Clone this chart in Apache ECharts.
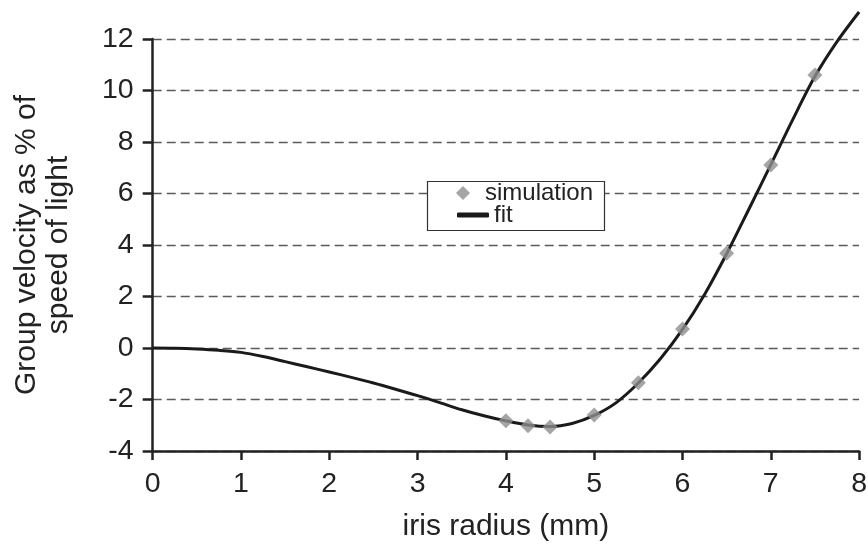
<!DOCTYPE html>
<html>
<head>
<meta charset="utf-8">
<script src="https://cdn.jsdelivr.net/npm/echarts@6/dist/echarts.min.js"></script>
<style>
  html, body { margin: 0; padding: 0; background: #ffffff; }
  #chart { width: 868px; height: 546px; }
</style>
</head>
<body>
<div id="chart"></div>
<script>
// Simulated group velocity (% of c) against iris radius (mm)
const simRadius = [4, 4.25, 4.5, 5, 5.5, 6, 6.5, 7, 7.5];
const simVelocity = [-2.83, -3.02, -3.07, -2.60, -1.35, 0.74, 3.68, 7.11, 10.60];

// Fitted curve, sampled along the radius
const fitRadius = [0, 0.25, 0.5, 0.75, 1, 1.25, 1.5, 1.75, 2, 2.25, 2.5, 2.75, 3, 3.25, 3.5, 3.75, 4, 4.25, 4.5, 4.75, 5, 5.25, 5.5, 5.75, 6, 6.25, 6.5, 6.75, 7, 7.25, 7.5, 7.75, 8];
const fitVelocity = [0, -0.01, -0.04, -0.09, -0.17, -0.33, -0.53, -0.73, -0.93, -1.14, -1.36, -1.60, -1.85, -2.12, -2.40, -2.63, -2.83, -2.99, -3.05, -2.93, -2.62, -2.12, -1.36, -0.42, 0.72, 2.08, 3.66, 5.38, 7.12, 8.88, 10.55, 11.9, 13.05];

// Axis ticks
const xTicks = [0, 1, 2, 3, 4, 5, 6, 7, 8];
const yTicks = [-4, -2, 0, 2, 4, 6, 8, 10, 12];

const seriesNames = ['simulation', 'fit'];
const axisNames = ['iris radius (mm)', 'Group velocity as % of\nspeed of light'];

const FONT = '"Liberation Sans", Arial, Helvetica, sans-serif';
const TEXT = '#222222';

const chart = echarts.init(document.getElementById('chart'), null, { renderer: 'canvas' });

chart.setOption({
  backgroundColor: '#ffffff',
  animation: false,
  textStyle: { fontFamily: FONT },
  grid: {
    left: 152.7, right: 8.9, top: 39, bottom: 95,
    containLabel: false,
    outerBoundsMode: 'none'
  },
  xAxis: {
    type: 'value',
    min: xTicks[0],
    max: xTicks[xTicks.length - 1],
    interval: 1,
    name: axisNames[0],
    nameLocation: 'middle',
    nameGap: 61,
    nameTextStyle: { fontSize: 30, color: TEXT, fontFamily: FONT },
    axisLine: { show: true, onZero: false, lineStyle: { color: '#222222', width: 2.5 } },
    axisTick: { show: true, length: 9, lineStyle: { color: '#222222', width: 2.5 } },
    axisLabel: { fontSize: 28.5, color: TEXT, margin: 19, fontFamily: FONT },
    splitLine: { show: false }
  },
  yAxis: {
    type: 'value',
    min: yTicks[0],
    max: yTicks[yTicks.length - 1],
    interval: 2,
    name: axisNames[1],
    nameLocation: 'middle',
    nameRotate: 90,
    nameGap: 78,
    nameTextStyle: { fontSize: 30, color: TEXT, lineHeight: 32, fontFamily: FONT },
    axisLine: { show: true, onZero: false, lineStyle: { color: '#222222', width: 2.5 } },
    axisTick: { show: true, length: 10, lineStyle: { color: '#222222', width: 2.5 } },
    axisLabel: { fontSize: 28.5, color: TEXT, margin: 19, fontFamily: FONT },
    splitLine: { show: true, lineStyle: { color: '#5a5a5a', width: 1.3, type: [9, 5] } }
  },
  graphic: [{
    type: 'rect',
    z: 10,
    shape: { x: 427.5, y: 181.5, width: 177, height: 49 },
    style: { fill: '#ffffff', stroke: '#333333', lineWidth: 1.2 }
  }],
  legend: [{
    data: [seriesNames[0]],
    orient: 'vertical',
    left: 456, top: 179,
    padding: 0,
    z: 20,
    icon: 'diamond',
    itemWidth: 14, itemHeight: 14,
    textStyle: { fontSize: 24, color: TEXT, lineHeight: 28, padding: [0, 0, 0, 10], fontFamily: FONT }
  }, {
    data: [seriesNames[1]],
    orient: 'vertical',
    left: 457, top: 201,
    padding: 0,
    z: 20,
    icon: 'roundRect',
    itemWidth: 32, itemHeight: 5,
    itemStyle: { color: '#1a1a1a' },
    textStyle: { fontSize: 24, color: TEXT, lineHeight: 28, fontFamily: FONT }
  }],
  series: [{
    name: seriesNames[1],
    type: 'line',
    data: fitRadius.map((r, i) => [r, fitVelocity[i]]),
    smooth: 0.3,
    showSymbol: false,
    symbol: 'none',
    clip: false,
    z: 2,
    lineStyle: { color: '#1a1a1a', width: 3 },
    itemStyle: { color: '#1a1a1a' }
  }, {
    name: seriesNames[0],
    type: 'scatter',
    data: simRadius.map((r, i) => [r, simVelocity[i]]),
    symbol: 'diamond',
    symbolSize: 15,
    z: 3,
    itemStyle: { color: '#8f8f8f' }
  }]
});
</script>
</body>
</html>
